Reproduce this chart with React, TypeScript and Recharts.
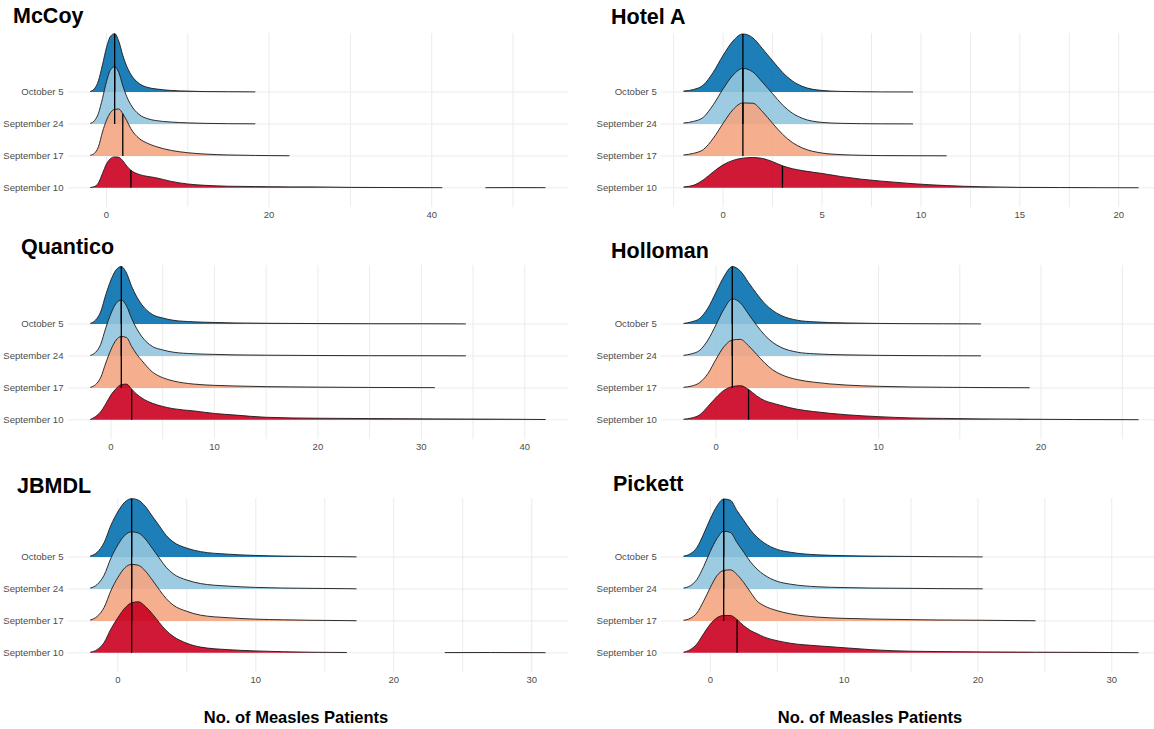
import React from "react";
import { ComposedChart, Area, Line, XAxis, YAxis, CartesianGrid } from "recharts";

// rows, top to bottom
const rowNames = ["October 5", "September 24", "September 17", "September 10"];

// McCoy
const mccoyX = [-2, -1.5, -1, -0.5, 0, 0.5, 1, 1.5, 2, 2.5, 3, 4, 5, 6, 8, 10, 12, 15, 18.3, 20, 22.5, 25, 30, 35, 41.3, 44, 46.6, 50, 54];
const mccoyOct5 = [0.02, 0.1, 0.35, 0.85, 1.4, 1.75, 1.83, 1.6, 1.15, 0.8, 0.55, 0.27, 0.15, 0.1, 0.05, 0.03, 0.015, 0.01, 0.005, null, null, null, null, null, null, null, null, null, null];
const mccoySep24 = [0.02, 0.1, 0.33, 0.8, 1.33, 1.7, 1.79, 1.62, 1.2, 0.85, 0.6, 0.3, 0.17, 0.11, 0.06, 0.035, 0.02, 0.01, 0.005, null, null, null, null, null, null, null, null, null, null];
const mccoySep17 = [0.02, 0.08, 0.28, 0.75, 1.12, 1.36, 1.46, 1.47, 1.32, 1.1, 0.85, 0.55, 0.4, 0.3, 0.17, 0.1, 0.06, 0.03, 0.015, 0.01, 0.005, null, null, null, null, null, null, null, null];
const mccoySep10 = [0.01, 0.04, 0.15, 0.45, 0.75, 0.92, 0.97, 0.96, 0.85, 0.68, 0.55, 0.42, 0.36, 0.32, 0.2, 0.12, 0.08, 0.05, 0.04, 0.035, 0.03, 0.03, 0.015, 0.01, 0.005, null, 0.005, 0.008, 0.005];
const mccoyMedians = [1, 1, 2, 3];
const mccoyMajor = [0, 20, 40];
const mccoyMinor = [10, 30, 50];

// Hotel A
const hotelX = [-2, -1.5, -1, -0.5, 0, 0.5, 1, 1.5, 2, 2.5, 3, 3.5, 4, 5, 6, 7, 8, 9.6, 11.3, 13, 15, 17, 19, 21];
const hotelOct5 = [0.03, 0.08, 0.22, 0.62, 1.15, 1.6, 1.82, 1.7, 1.35, 0.98, 0.62, 0.35, 0.18, 0.05, 0.02, 0.01, 0.005, 0.003, null, null, null, null, null, null];
const hotelSep24 = [0.03, 0.08, 0.21, 0.6, 1.1, 1.53, 1.74, 1.63, 1.3, 0.95, 0.6, 0.34, 0.18, 0.05, 0.02, 0.01, 0.005, 0.003, null, null, null, null, null, null];
const hotelSep17 = [0.03, 0.08, 0.2, 0.55, 1.02, 1.45, 1.66, 1.65, 1.38, 1.02, 0.68, 0.42, 0.25, 0.09, 0.04, 0.02, 0.01, 0.006, 0.003, null, null, null, null, null];
const hotelSep10 = [0.03, 0.08, 0.25, 0.5, 0.72, 0.86, 0.93, 0.95, 0.92, 0.82, 0.69, 0.6, 0.54, 0.45, 0.35, 0.27, 0.21, 0.13, 0.07, 0.035, 0.015, 0.01, 0.005, 0.003];
const hotelMedians = [1, 1, 1, 3];
const hotelMajor = [0, 5, 10, 15, 20];
const hotelMinor = [-2.5, 2.5, 7.5, 12.5, 17.5];

// Quantico
const quanticoX = [-2, -1.5, -1, -0.5, 0, 0.5, 1, 1.5, 2, 2.5, 3, 4, 5, 6, 8, 10, 12, 15, 20, 25, 31.3, 34.3, 38, 42];
const quanticoOct5 = [0.02, 0.12, 0.38, 0.92, 1.38, 1.7, 1.8, 1.6, 1.18, 0.85, 0.6, 0.3, 0.19, 0.12, 0.07, 0.05, 0.035, 0.025, 0.015, 0.01, 0.008, 0.005, null, null];
const quanticoSep24 = [0.02, 0.11, 0.36, 0.88, 1.33, 1.65, 1.75, 1.57, 1.17, 0.85, 0.6, 0.3, 0.19, 0.12, 0.07, 0.05, 0.035, 0.025, 0.015, 0.01, 0.008, 0.005, null, null];
const quanticoSep17 = [0.02, 0.1, 0.32, 0.78, 1.2, 1.5, 1.61, 1.58, 1.3, 1.05, 0.85, 0.5, 0.32, 0.22, 0.12, 0.08, 0.06, 0.04, 0.025, 0.015, 0.008, null, null, null];
const quanticoSep10 = [0.01, 0.1, 0.25, 0.5, 0.78, 0.98, 1.1, 1.12, 0.96, 0.8, 0.68, 0.52, 0.42, 0.35, 0.28, 0.2, 0.15, 0.08, 0.05, 0.04, 0.03, 0.025, 0.02, 0.01];
const quanticoMedians = [1, 1, 1, 2];
const quanticoMajor = [0, 10, 20, 30, 40];
const quanticoMinor = [5, 15, 25, 35];

// Holloman
const hollomanX = [-2, -1.5, -1, -0.5, 0, 0.5, 1, 1.5, 2, 2.5, 3, 3.5, 4, 5, 6, 8, 10, 12, 14, 16.3, 19.3, 22, 26];
const hollomanOct5 = [0.02, 0.07, 0.18, 0.5, 1.0, 1.5, 1.8, 1.66, 1.3, 0.95, 0.64, 0.42, 0.27, 0.12, 0.07, 0.035, 0.02, 0.012, 0.008, 0.005, null, null, null];
const hollomanSep24 = [0.02, 0.07, 0.18, 0.5, 0.98, 1.48, 1.79, 1.66, 1.31, 0.96, 0.65, 0.42, 0.27, 0.12, 0.07, 0.035, 0.02, 0.012, 0.008, 0.005, null, null, null];
const hollomanSep17 = [0.02, 0.06, 0.17, 0.45, 0.9, 1.3, 1.5, 1.52, 1.32, 1.05, 0.78, 0.56, 0.42, 0.26, 0.18, 0.09, 0.05, 0.03, 0.02, 0.012, 0.005, null, null];
const hollomanSep10 = [0.02, 0.06, 0.16, 0.42, 0.7, 0.93, 1.04, 1.07, 0.95, 0.75, 0.6, 0.52, 0.45, 0.33, 0.26, 0.16, 0.1, 0.06, 0.045, 0.03, 0.02, 0.01, 0.005];
const hollomanMedians = [1, 1, 1, 2];
const hollomanMajor = [0, 10, 20];
const hollomanMinor = [5, 15, 25];

// JBMDL
const jbmdlX = [-2, -1.5, -1, -0.5, 0, 0.5, 1, 1.5, 2, 2.5, 3, 3.5, 4, 5, 6, 8, 10, 12, 14, 16.6, 17.3, 20, 23.7, 27, 31];
const jbmdlOct5 = [0.03, 0.15, 0.45, 1.0, 1.42, 1.72, 1.83, 1.78, 1.58, 1.28, 0.98, 0.68, 0.48, 0.28, 0.17, 0.09, 0.05, 0.03, 0.02, 0.01, 0.005, null, null, null, null];
const jbmdlSep24 = [0.03, 0.14, 0.43, 0.97, 1.38, 1.68, 1.79, 1.75, 1.56, 1.27, 0.97, 0.68, 0.48, 0.28, 0.17, 0.09, 0.05, 0.03, 0.02, 0.01, 0.005, null, null, null, null];
const jbmdlSep17 = [0.03, 0.14, 0.42, 0.95, 1.36, 1.66, 1.77, 1.74, 1.56, 1.28, 0.98, 0.7, 0.5, 0.3, 0.18, 0.1, 0.055, 0.035, 0.02, 0.01, 0.005, null, null, null, null];
const jbmdlSep10 = [0.02, 0.1, 0.32, 0.75, 1.1, 1.4, 1.57, 1.6, 1.45, 1.22, 0.95, 0.7, 0.52, 0.3, 0.18, 0.1, 0.06, 0.035, 0.02, 0.01, null, null, 0.008, 0.01, 0.005];
const jbmdlMedians = [1, 1, 1, 1];
const jbmdlMajor = [0, 10, 20, 30];
const jbmdlMinor = [5, 15, 25];

// Pickett
const pickettX = [-2, -1.5, -1, -0.5, 0, 0.5, 1, 1.5, 2, 2.5, 3, 3.5, 4, 5, 6, 8, 10, 12, 15, 17, 20.35, 24.3, 28, 32];
const pickettOct5 = [0.03, 0.1, 0.3, 0.72, 1.2, 1.6, 1.82, 1.78, 1.45, 1.15, 0.85, 0.62, 0.45, 0.24, 0.15, 0.07, 0.045, 0.03, 0.02, 0.012, 0.005, null, null, null];
const pickettSep24 = [0.03, 0.1, 0.3, 0.7, 1.18, 1.58, 1.81, 1.77, 1.45, 1.15, 0.85, 0.62, 0.45, 0.24, 0.15, 0.07, 0.045, 0.03, 0.02, 0.012, 0.005, null, null, null];
const pickettSep17 = [0.02, 0.08, 0.25, 0.62, 1.05, 1.42, 1.58, 1.6, 1.45, 1.2, 0.9, 0.62, 0.48, 0.32, 0.22, 0.12, 0.08, 0.06, 0.04, 0.03, 0.02, 0.005, null, null];
const pickettSep10 = [0.02, 0.1, 0.28, 0.6, 0.9, 1.1, 1.17, 1.17, 1.04, 0.85, 0.7, 0.6, 0.5, 0.38, 0.3, 0.22, 0.16, 0.1, 0.05, 0.04, 0.03, 0.02, 0.015, 0.005];
const pickettMedians = [1, 1, 1, 2];
const pickettMajor = [0, 10, 20, 30];
const pickettMinor = [5, 15, 25];

const FILLS = ["#0571b0", "#92c5de", "#f4a582", "#ca0020"];
const FONT = "'Liberation Sans', Arial, Helvetica, sans-serif";
const ROW_TICKS = [1, 2, 3, 4];
const Y_DOMAIN = [0.4, 5.85];

type Num = number | null;
type Panel = {
  title: string;
  x: number[];
  ridges: Num[][];
  medians: number[];
  major: number[];
  minor: number[];
  col: number;
  row: number;
  titleX: number;
  titleY: number;
};

const panels: Panel[] = [
  { title: "McCoy", x: mccoyX, ridges: [mccoyOct5, mccoySep24, mccoySep17, mccoySep10], medians: mccoyMedians, major: mccoyMajor, minor: mccoyMinor, col: 0, row: 0, titleX: 13, titleY: 23 },
  { title: "Hotel A", x: hotelX, ridges: [hotelOct5, hotelSep24, hotelSep17, hotelSep10], medians: hotelMedians, major: hotelMajor, minor: hotelMinor, col: 1, row: 0, titleX: 611, titleY: 24 },
  { title: "Quantico", x: quanticoX, ridges: [quanticoOct5, quanticoSep24, quanticoSep17, quanticoSep10], medians: quanticoMedians, major: quanticoMajor, minor: quanticoMinor, col: 0, row: 1, titleX: 21, titleY: 254 },
  { title: "Holloman", x: hollomanX, ridges: [hollomanOct5, hollomanSep24, hollomanSep17, hollomanSep10], medians: hollomanMedians, major: hollomanMajor, minor: hollomanMinor, col: 1, row: 1, titleX: 611, titleY: 258 },
  { title: "JBMDL", x: jbmdlX, ridges: [jbmdlOct5, jbmdlSep24, jbmdlSep17, jbmdlSep10], medians: jbmdlMedians, major: jbmdlMajor, minor: jbmdlMinor, col: 0, row: 2, titleX: 17, titleY: 493 },
  { title: "Pickett", x: pickettX, ridges: [pickettOct5, pickettSep24, pickettSep17, pickettSep10], medians: pickettMedians, major: pickettMajor, minor: pickettMinor, col: 1, row: 2, titleX: 613, titleY: 491 },
];

// layout
const COLS = [
  { left: 0, width: 575, yAxisW: 67.5, marginRight: 6.7 },
  { left: 580, width: 590, yAxisW: 80.8, marginRight: 8.7 },
];
const ROW_TOPS = [0, 232.3, 465.4];
const PLOT_TOP = 33;
const PLOT_H = 174;
const X_AXIS_H = 24;

const RowTick = (props: any) => {
  const { x, y, payload } = props;
  return (
    <text x={x} y={y} dy="0.35em" textAnchor="end" fill="#4d4d4d" fontSize={9.6} fontFamily={FONT}>
      {rowNames[4 - payload.value]}
    </text>
  );
};

function RidgePanel({ p }: { p: Panel }) {
  const col = COLS[p.col];
  const lo = p.x[0];
  const hi = p.x[p.x.length - 1];
  const pad = (hi - lo) * 0.05;
  const dLo = lo - pad;
  const dHi = hi + pad;
  const plotW = col.width - col.marginRight - col.yAxisW;

  const data = p.x.map((xv, i) => {
    const o: Record<string, number | null> = { x: xv };
    p.ridges.forEach((r, k) => {
      const v = r[i];
      o["r" + k] = v == null ? null : 4 - k + v;
    });
    return o;
  });

  const ticks = [...p.major, ...p.minor].sort((a, b) => a - b);
  // grid positions in chart pixels
  const vPoints = ticks.map((v) => col.yAxisW + ((v - dLo) / (dHi - dLo)) * plotW);
  const hPoints = ROW_TICKS.map((v) => PLOT_TOP + ((Y_DOMAIN[1] - v) / (Y_DOMAIN[1] - Y_DOMAIN[0])) * PLOT_H);

  const series: React.ReactNode[] = [];
  p.ridges.forEach((r, k) => {
    const base = 4 - k;
    const m = p.medians[k];
    const h = r[p.x.indexOf(m)] ?? 0;
    series.push(
      <Area
        key={"a" + k}
        type="monotone"
        dataKey={"r" + k}
        baseValue={base}
        fill={FILLS[k]}
        fillOpacity={0.9}
        stroke="#1a1a1a"
        strokeWidth={0.9}
        dot={false}
        activeDot={false}
        isAnimationActive={false}
      />
    );
    series.push(
      <Line
        key={"m" + k}
        data={[{ x: m, y: base }, { x: m, y: base + h }]}
        dataKey="y"
        stroke="#000"
        strokeWidth={1.3}
        dot={false}
        activeDot={false}
        isAnimationActive={false}
      />
    );
  });

  return (
    <div style={{ position: "absolute", left: col.left, top: ROW_TOPS[p.row] }}>
      <ComposedChart
        width={col.width}
        height={PLOT_TOP + PLOT_H + X_AXIS_H}
        data={data}
        margin={{ top: PLOT_TOP, right: col.marginRight, bottom: 0, left: 0 }}
      >
        <CartesianGrid stroke="#ebebeb" strokeWidth={1} horizontalPoints={hPoints} verticalPoints={vPoints} />
        <XAxis
          type="number"
          dataKey="x"
          domain={[dLo, dHi]}
          allowDataOverflow
          ticks={ticks}
          interval={0}
          tickFormatter={(v: number) => (p.major.includes(v) ? String(v) : "")}
          axisLine={false}
          tickLine={false}
          tickSize={0}
          tickMargin={4}
          height={X_AXIS_H}
          tick={{ fill: "#4d4d4d", fontSize: 9.5, fontFamily: FONT }}
        />
        <YAxis
          type="number"
          domain={Y_DOMAIN}
          allowDataOverflow
          ticks={ROW_TICKS}
          interval={0}
          axisLine={false}
          tickLine={false}
          tickSize={0}
          tickMargin={4}
          width={col.yAxisW}
          tick={RowTick}
        />
        {series}
      </ComposedChart>
    </div>
  );
}

export default function App() {
  return (
    <div
      style={{
        position: "absolute",
        left: 0,
        top: 0,
        width: 1154,
        height: 729,
        overflow: "hidden",
        background: "#fff",
      }}
    >
      {panels.map((p) => (
        <RidgePanel key={p.title} p={p} />
      ))}
      <svg
        width={1154}
        height={729}
        style={{ position: "absolute", left: 0, top: 0, pointerEvents: "none" }}
      >
        {panels.map((p) => (
          <text key={p.title} x={p.titleX} y={p.titleY} fontFamily={FONT} fontWeight="bold" fontSize={21.5} fill="#000">
            {p.title}
          </text>
        ))}
        <text x={296} y={723} textAnchor="middle" fontFamily={FONT} fontWeight="bold" fontSize={16.5} fill="#000">
          No. of Measles Patients
        </text>
        <text x={870} y={723} textAnchor="middle" fontFamily={FONT} fontWeight="bold" fontSize={16.5} fill="#000">
          No. of Measles Patients
        </text>
      </svg>
    </div>
  );
}
